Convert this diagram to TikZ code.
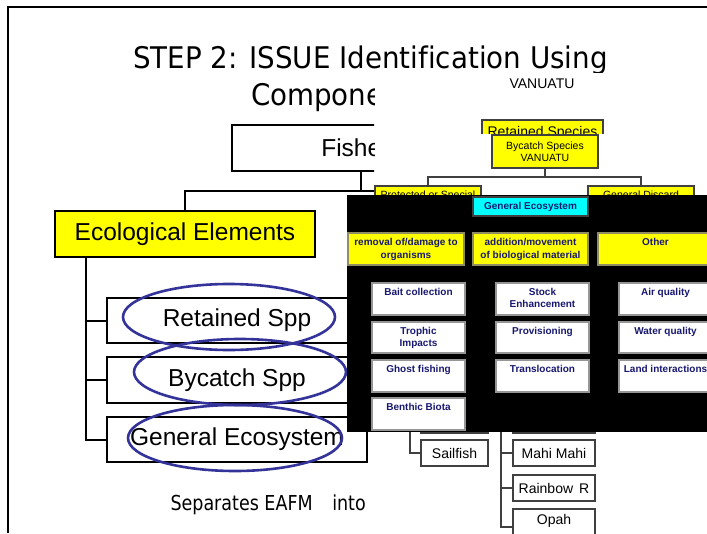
\documentclass[tikz,border=0pt]{standalone}
\usepackage{fontspec}
\setmainfont{Liberation Sans}
\newfontfamily\titlefont[FakeStretch=0.93, Ligatures=NoCommon]{DejaVu Sans}
\newfontfamily\notefont[FakeStretch=0.85, Ligatures=NoCommon]{DejaVu Sans}
\usetikzlibrary{calc}

\definecolor{ovalblue}{RGB}{51,51,153}
\definecolor{navytext}{RGB}{24,24,112}
\definecolor{treegray}{RGB}{64,64,64}
\definecolor{edgegray}{RGB}{150,150,150}
\definecolor{hiyellow}{RGB}{255,255,0}
\definecolor{hicyan}{RGB}{0,255,255}

% font size in px with a given line spacing
\newcommand{\pxf}[2]{\fontsize{#1pt}{#2pt}\selectfont}
% fixed-size box with its text set at the top: width, height, top padding, text
\newcommand{\topbox}[4]{\parbox[c][#2pt][t]{#1pt}{\centering\vspace*{#3pt}#4\par}}

\tikzset{
  slideline/.style={draw=black, line width=2pt},
  slidebox/.style={draw=black, line width=2pt, font=\pxf{24.5}{28}},
  oval/.style={draw=ovalblue, line width=2.6pt},
  treeline/.style={draw=treegray, line width=1.2pt},
  ybox/.style={draw=treegray, line width=1.2pt, fill=hiyellow},
  wbox/.style={draw=treegray, line width=1.2pt, fill=white, font=\pxf{14}{16}},
  panelbox/.style={draw=edgegray, line width=1.2pt, fill=white, text=navytext, font=\pxf{10}{12.5}\bfseries},
  hdrbox/.style={panelbox, fill=hiyellow, draw=gray!70!olive},
}

\begin{document}
\begin{tikzpicture}[x=1pt, y=-1pt, every node/.style={inner sep=0pt, outer sep=0pt}]
\fill[white] (0,0) rectangle (707,533);
\useasboundingbox (0,0) rectangle (707,533);
\clip (0,0) rectangle (707,533);

% ---------- the slide ----------
\begin{scope}
  \clip (0,0) -- (707,0) -- (707,72) -- (374,72) -- (374,533) -- (0,533) -- cycle;
  \draw[slideline, line width=2.5pt] (8,533) -- (8,7) -- (707,7);
  \node[font=\titlefont\pxf{29.8}{36}, anchor=base] (title1) at (370.5,68) {STEP 2: ISSUE Identification Using};
  \node[font=\titlefont\pxf{29.8}{36}, anchor=base west] (title2) at (251,105) {Component Trees};

  \node[slidebox, minimum width=258, minimum height=46] (fish) at (361,148) {\hspace*{20pt}Fisheries};
  \node[slidebox, fill=hiyellow, minimum width=260, minimum height=46] (eco) at (185,234) {Ecological Elements};
  \draw[slideline] (fish.south) -- ++(0,20) coordinate (fj) -| (eco.north);
  \coordinate (fr) at (420,191);
  \draw[slideline] (fj) -- (fr);

  \node[slidebox, minimum width=260, minimum height=45] (ret) at (237,320.5) {Retained Spp};
  \node[slidebox, minimum width=260, minimum height=46] (byc) at (237,380) {Bycatch Spp};
  \node[slidebox, minimum width=260, minimum height=45] (gen) at (237,439.5) {General Ecosystem};
  \coordinate (spine) at ($(eco.south west)+(31,0)$);
  \draw[slideline] (spine) |- (gen.west);
  \draw[slideline] (spine |- ret.west) -- (ret.west);
  \draw[slideline] (spine |- byc.west) -- (byc.west);

  \draw[oval] (229,317) ellipse [x radius=106, y radius=33];
  \draw[oval] (240,372) ellipse [x radius=106, y radius=33];
  \draw[oval] (235,438) ellipse [x radius=107, y radius=33];

  \node[font=\notefont\pxf{20.6}{24}, anchor=base west] (sep) at (170.5,510) {Separates EAFM\hspace{14pt} into};
\end{scope}

% ---------- retained species chart ----------
\node[font=\pxf{14}{16}] (vanuatu) at (542,83.5) {VANUATU};
\begin{scope}
  \clip (374,72) rectangle (707,133);
  \node[ybox, font=\pxf{14}{16}, anchor=north, minimum width=121, inner ysep=6pt, text depth=12pt] (retsp) at (542.5,120) {Retained Species};
\end{scope}

% ---------- bycatch species chart ----------
\node[ybox, font=\pxf{10.5}{12}, align=center, minimum width=106, minimum height=33] (bysp) at (545,151.5) {Bycatch Species\\VANUATU};
\node[ybox, font=\pxf{10.5}{12}, anchor=north, minimum width=106, inner ysep=4.5pt, text depth=14pt] (prot) at (428,186) {Protected or Special};
\node[ybox, font=\pxf{10.5}{12}, anchor=north, minimum width=106, inner ysep=4.5pt, text depth=14pt] (disc) at (641,186) {General Discard};
\draw[treeline] (bysp.south) -- ++(0,9) coordinate (bj);
\draw[treeline] (bj) -| (prot.north);
\draw[treeline] (bj) -| (disc.north);

\node[wbox, minimum width=67, minimum height=30] (ua) at (454.5,418) {};
\node[wbox, minimum width=82, minimum height=30] (ub) at (554,418) {};
\node[wbox, minimum width=67, minimum height=26] (sail) at (454.5,453) {Sailfish};
\node[wbox, minimum width=82, minimum height=26] (mahi) at (554,453) {Mahi Mahi};
\node[wbox, minimum width=82, minimum height=26] (rain) at (554,488) {Rainbow\hspace{6pt}R};
\node[wbox, anchor=north, minimum width=82, inner ysep=5pt, text height=10pt, text depth=16pt] (opah) at (554,509) {Opah};
\coordinate (sl) at (410,420);
\coordinate (sr) at (501,420);
\draw[treeline] (sl) |- (sail.west);
\draw[treeline] (sr) |- (opah.west);
\draw[treeline] (sr |- mahi.west) -- (mahi.west);
\draw[treeline] (sr |- rain.west) -- (rain.west);

% ---------- general ecosystem chart ----------
\node[fill=black, anchor=north west, minimum width=360, minimum height=237] (panel) at (347,195) {};
\node[panelbox, fill=hicyan, draw=treegray, minimum width=115, minimum height=19] (geco) at (530.5,206.5) {General Ecosystem};

\node[hdrbox, anchor=north west] (h1) at (348,233) {\topbox{116}{32}{5.5}{removal of/damage to\\organisms}};
\node[hdrbox, anchor=north west] (h2) at (473,233) {\topbox{115}{32}{5.5}{addition/movement\\of biological material}};
\node[hdrbox, anchor=north west] (h3) at (598,233) {\topbox{115}{32}{5.5}{Other}};

\node[panelbox, anchor=north west] (a1) at (372,283) {\topbox{93}{32}{5}{Bait collection}};
\node[panelbox, anchor=north west] (a2) at (372,322) {\topbox{93}{31}{5}{Trophic\\Impacts}};
\node[panelbox, anchor=north west] (a3) at (372,360) {\topbox{93}{32}{5}{Ghost fishing}};
\node[panelbox, anchor=north west] (a4) at (372,398) {\topbox{93}{32}{5}{Benthic Biota}};

\node[panelbox, anchor=north west] (b1) at (496,283) {\topbox{93}{32}{5}{Stock\\Enhancement}};
\node[panelbox, anchor=north west] (b2) at (496,322) {\topbox{93}{31}{5}{Provisioning}};
\node[panelbox, anchor=north west] (b3) at (496,360) {\topbox{93}{32}{5}{Translocation}};

\node[panelbox, anchor=north west] (c1) at (619,283) {\topbox{93}{32}{5}{Air quality}};
\node[panelbox, anchor=north west] (c2) at (619,322) {\topbox{93}{31}{5}{Water quality}};
\node[panelbox, anchor=north west] (c3) at (619,360) {\topbox{93}{32}{5}{Land interactions}};
\end{tikzpicture}
\end{document}
